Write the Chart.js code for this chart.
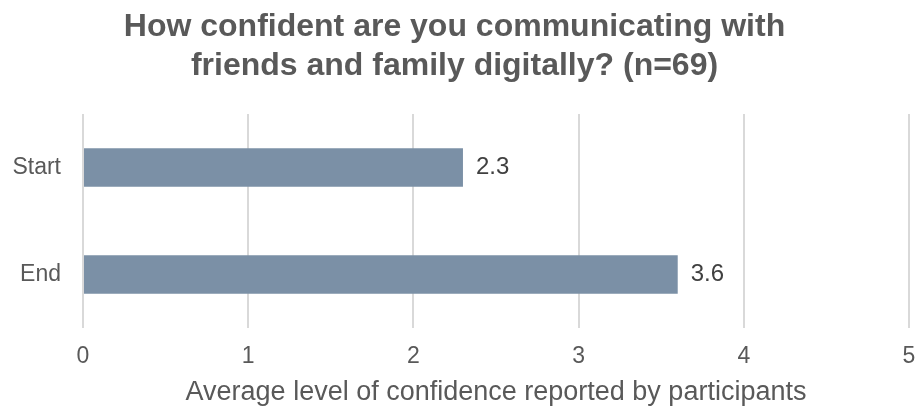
<!DOCTYPE html>
<html>
<head>
<meta charset="utf-8">
<script src="https://cdn.jsdelivr.net/npm/chart.js@4.4.1/dist/chart.umd.min.js"></script>
<style>
  html, body { margin: 0; padding: 0; background: #fff; }
  #wrap { width: 921px; height: 407px; }
</style>
</head>
<body>
<div id="wrap"><canvas id="confChart" width="921" height="407"></canvas></div>
<script>
// Survey results
const categories = ['Start', 'End'];
const averages = [2.3, 3.6];
const xTicks = [0, 1, 2, 3, 4, 5];

const textGray = '#595959';
const fontFamily = '"Liberation Sans", Arial, sans-serif';

// Writes each bar's value just past its end
const valueLabels = {
    id: 'valueLabels',
    afterDatasetsDraw(chart) {
        const { ctx } = chart;
        const meta = chart.getDatasetMeta(0);
        ctx.save();
        ctx.font = '24px ' + fontFamily;
        ctx.fillStyle = '#404040';
        ctx.textAlign = 'left';
        ctx.textBaseline = 'middle';
        meta.data.forEach((bar, i) => {
            ctx.fillText(averages[i].toFixed(1), bar.x + 13, bar.y);
        });
        ctx.restore();
    }
};

new Chart(document.getElementById('confChart'), {
    type: 'bar',
    data: {
        labels: categories,
        datasets: [{
            data: averages,
            backgroundColor: '#7b90a6',
            barPercentage: 0.6,
            categoryPercentage: 0.6
        }]
    },
    options: {
        indexAxis: 'y',
        responsive: false,
        animation: false,
        layout: { padding: { left: 0, right: 12, top: 0, bottom: 1 } },
        scales: {
            x: {
                min: 0,
                max: 5,
                afterBuildTicks: scale => { scale.ticks = xTicks.map(v => ({ value: v })); },
                afterFit: scale => {
                    scale.height = 78;
                    scale.paddingLeft = 0;
                    scale.paddingRight = 0;
                },
                grid: { color: '#d9d9d9', lineWidth: 2, drawTicks: false },
                border: { display: false },
                ticks: {
                    color: textGray,
                    padding: 15,
                    font: { family: fontFamily, size: 23 }
                },
                title: {
                    display: true,
                    text: 'Average level of confidence reported by participants',
                    color: textGray,
                    padding: { top: 10, bottom: 0 },
                    font: { family: fontFamily, size: 27, lineHeight: 1 }
                }
            },
            y: {
                afterFit: scale => { scale.width = 83; },
                grid: { display: false, drawTicks: false },
                border: { display: false },
                ticks: {
                    color: textGray,
                    padding: 22,
                    font: { family: fontFamily, size: 23 }
                }
            }
        },
        plugins: {
            legend: { display: false },
            tooltip: { enabled: false },
            title: {
                display: true,
                text: ['How confident are you communicating with', 'friends and family digitally? (n=69)'],
                color: textGray,
                padding: { top: 8, bottom: 28 },
                font: { family: fontFamily, size: 32, weight: 'bold', lineHeight: 1.22 }
            }
        }
    },
    plugins: [valueLabels]
});
</script>
</body>
</html>
